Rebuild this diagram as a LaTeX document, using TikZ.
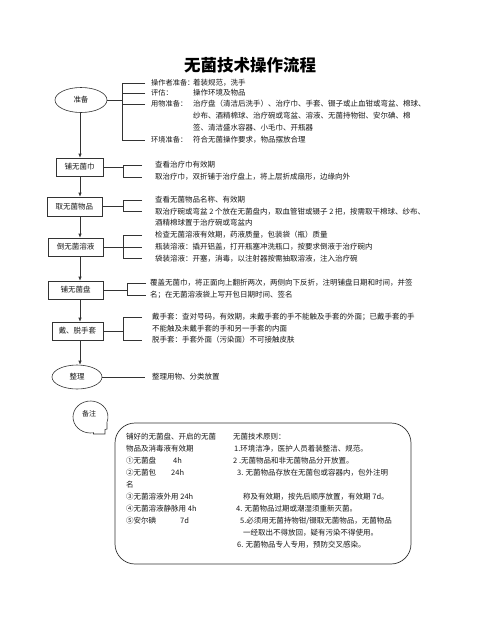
\documentclass[tikz,border=0pt]{standalone}
\usepackage{fontspec}
\setmainfont{Noto Sans CJK SC}
\newfontfamily\halffont[RawFeature=+halt]{Noto Sans CJK SC}
\usetikzlibrary{shapes.geometric,arrows.meta}
\begin{document}
\begin{tikzpicture}[x=1pt,y=-1pt,
  ln/.style={draw=black!80,line width=0.6pt},
  arr/.style={ln,-{Latex[length=4pt,width=3.4pt]}},
  tx/.style={anchor=west,inner sep=0pt,font=\fontsize{7.5}{9}\selectfont,text=black!90},
  lab/.style={tx,font=\fontsize{7.2}{9}\selectfont\halffont},
  stepbox/.style={draw=black!80,line width=0.6pt,rectangle,minimum height=18pt,inner sep=0pt,font=\fontsize{7.5}{9}\selectfont,text=black!90},
  oval/.style={draw=black!80,line width=0.6pt,ellipse,inner sep=0pt,font=\fontsize{7.5}{9}\selectfont,text=black!90}]
\fill[white] (0,0) rectangle (500,633);
\useasboundingbox (0,0) rectangle (500,633);
\node[font=\fontsize{16.5}{18}\selectfont\bfseries] (title) at (250,65) {无菌技术操作流程};

% trunk
\coordinate (tr) at (80,0);
\node[oval,minimum width=52pt,minimum height=25pt] (e1) at (81,100) {准备};
\node[stepbox,minimum width=47pt] (b1) at (79.5,167) {铺无菌巾};
\node[stepbox,minimum width=55pt,minimum height=19pt] (b2) at (74.5,206.5) {取无菌物品};
\node[stepbox,minimum width=55pt] (b3) at (75.5,247) {倒无菌溶液};
\node[stepbox,minimum width=55pt] (b4) at (75.5,290) {铺无菌盘};
\node[stepbox,minimum width=51pt] (b5) at (77.5,331) {戴、脱手套};
\node[oval,minimum width=50pt,minimum height=24pt] (e2) at (77,377) {整理};
\draw[arr] (e1.south -| tr) -- (b1.north -| tr);
\draw[arr] (b1.south -| tr) -- (b2.north -| tr);
\draw[arr] (b2.south -| tr) -- (b3.north -| tr);
\draw[arr] (b3.south -| tr) -- (b4.north -| tr);
\draw[arr] (b4.south -| tr) -- (b5.north -| tr);
\draw[arr] (b5.south -| tr) -- (e2.north -| tr);

% 准备
\coordinate (k1) at (122,0);
\node[lab] (p1) at (151,83) {操作者准备：};
\node[lab] (p2) at (151,93) {评估：};
\node[lab] (p3) at (151,104) {用物准备：};
\node[lab] (p4) at (151,140) {环境准备：};
\node[tx] (q1) at (193,83) {着装规范，洗手};
\node[tx] (q2) at (193,93) {操作环境及物品};
\node[tx] (q3) at (193,104) {治疗盘（清洁后洗手）、治疗巾、手套、镊子或止血钳或弯盆、棉球、};
\node[tx] (q4) at (193,116) {纱布、酒精棉球、治疗碗或弯盆、溶液、无菌持物钳、安尔碘、棉};
\node[tx] (q5) at (193,128) {签、清洁盛水容器、小毛巾、开瓶器};
\node[tx] (q6) at (193,140) {符合无菌操作要求，物品摆放合理};
\draw[ln] (e1.east) -- (e1.east -| k1);
\draw[ln] ([xshift=-6pt]p1.west) -| (k1 |- p4.west) -- ([xshift=-6pt]p4.west);
\draw[ln] ([xshift=-6pt]p2.west) -- (p2.west -| k1);
\draw[ln] ([xshift=-6pt]p3.west) -- (p3.west -| k1);

% 铺无菌巾
\coordinate (k2) at (123,0);
\node[tx] (r1) at (155,165) {查看治疗巾有效期};
\node[tx] (r2) at (155,177) {取治疗巾，双折铺于治疗盘上，将上层折成扇形，边缘向外};
\draw[ln] (b1.east) -- (b1.east -| k2);
\draw[ln] ([xshift=-13pt]r1.west) -| (k2 |- r2.west) -- ([xshift=-13pt]r2.west);

% 取无菌物品
\node[tx] (s1) at (155,200) {查看无菌物品名称、有效期};
\node[tx] (s2) at (155,211.5) {取治疗碗或弯盆 2 个放在无菌盘内，取血管钳或镊子 2 把，按需取干棉球、纱布、};
\node[tx] (s3) at (155,223) {酒精棉球置于治疗碗或弯盆内};
\draw[ln] (b2.east) -- (b2.east -| k2);
\draw[ln] ([xshift=-13pt]s1.west) -| (k2 |- s2.west) -- ([xshift=-13pt]s2.west);

% 倒无菌溶液
\node[tx] (u1) at (155,235) {检查无菌溶液有效期，药液质量，包装袋（瓶）质量};
\node[tx] (u2) at (155,247) {瓶装溶液：撬开铝盖，打开瓶塞冲洗瓶口，按要求倒液于治疗碗内};
\node[tx] (u3) at (155,258.5) {袋装溶液：开塞，消毒，以注射器按需抽取溶液，注入治疗碗};
\draw[ln] (b3.east) -- ([xshift=-13pt]u2.west);
\draw[ln] ([xshift=-13pt]u1.west) -| (k2 |- u3.west) -- ([xshift=-13pt]u3.west);

% 铺无菌盘
\coordinate (k4) at (127,0);
\node[tx] (v1) at (150,283) {覆盖无菌巾，将正面向上翻折两次，两侧向下反折，注明铺盘日期和时间，并签};
\node[tx] (v2) at (150,295) {名；在无菌溶液袋上写开包日期时间、签名};
\draw[ln] (b4.east) -- (b4.east -| k4);
\draw[ln] ([xshift=-4pt]v1.west) -| (k4 |- v2.west) -- ([xshift=-4pt]v2.west);

% 戴、脱手套
\node[tx] (w1) at (152,317) {戴手套：查对号码，有效期，未戴手套的手不能触及手套的外面；已戴手套的手};
\node[tx] (w2) at (152,328.5) {不能触及未戴手套的手和另一手套的内面};
\node[tx] (w3) at (152,340) {脱手套：手套外面（污染面）不可接触皮肤};
\draw[ln] (b5.east) -- (b5.east -| k2);
\draw[ln] ([xshift=-10pt]w1.west) -| (k2 |- w3.west) -- ([xshift=-10pt]w3.west);

% 整理
\node[tx] (z1) at (152,377) {整理用物、分类放置};
\draw[ln] (e2.east) -- ([xshift=-7pt]z1.west);

% 备注 bubble
\coordinate (bc) at (90.5,417);
\draw[ln] (bc) ++(80:17.5 and 16) arc[start angle=80,end angle=380,x radius=17.5,y radius=16]
  -- (107,429) -- (105,429.5) -- (105,434) -- (93.5,434) -- cycle;
\node[font=\fontsize{7}{8}\selectfont,text=black!90] (bz) at (89,414) {备注};

% note box
\node[draw=black!80,line width=0.7pt,rounded corners=20pt,minimum width=296pt,minimum height=141pt,inner sep=0pt] (nb) at (263,493.5) {};
\node[tx] (l1) at (126,437) {铺好的无菌盘、开启的无菌};
\node[tx] (l2) at (126,449) {物品及消毒液有效期};
\node[tx] (l3) at (126,461) {①无菌盘};
\node[tx] (l3b) at (173,461) {4h};
\node[tx] (l4) at (126,473) {②无菌包};
\node[tx] (l4b) at (171,473) {24h};
\node[tx] (l5) at (126,485) {名};
\node[tx] (l6) at (126,497) {③无菌溶液外用 24h};
\node[tx] (l7) at (126,509) {④无菌溶液静脉用 4h};
\node[tx] (l8) at (126,521) {⑤安尔碘};
\node[tx] (l8b) at (180,521) {7d};

\node[tx] (m1) at (233,437) {无菌技术原则：};
\node[tx] (m2) at (234,449) {1.环境洁净，医护人员着装整洁、规范。};
\node[tx] (m3) at (233,461) {2 .无菌物品和非无菌物品分开放置。};
\node[tx] (m4) at (237,473) {3. 无菌物品存放在无菌包或容器内，包外注明};
\node[tx] (m5) at (243,497) {称及有效期，按先后顺序放置，有效期 7d。};
\node[tx] (m6) at (236,509) {4. 无菌物品过期或潮湿须重新灭菌。};
\node[tx] (m7) at (240,521) {5.必须用无菌持物钳/镊取无菌物品，无菌物品};
\node[tx] (m8) at (243,533) {一经取出不得放回，疑有污染不得使用。};
\node[tx] (m9) at (237,545) {6. 无菌物品专人专用，预防交叉感染。};
\end{tikzpicture}
\end{document}
